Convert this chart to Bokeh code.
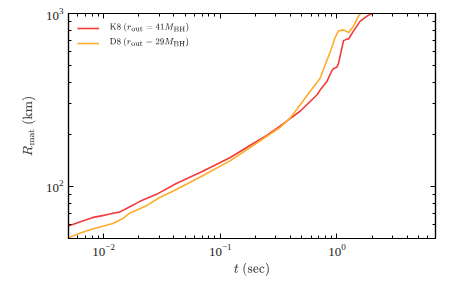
from bokeh.plotting import figure
from bokeh.models import LogAxis, Legend, LegendItem, Range1d, FixedTicker, CustomJSTickFormatter, Label
from bokeh.embed import file_html
from bokeh.resources import INLINE

# K8 series
t_k8 = [0.005, 0.0065, 0.008, 0.01, 0.012, 0.0137, 0.016, 0.0205, 0.0284, 0.042,
        0.07, 0.122, 0.181, 0.25, 0.327, 0.486, 0.676, 0.72, 0.82, 0.908, 0.935,
        1.0, 1.03, 1.14, 1.22, 1.26, 1.39, 1.585, 1.81, 1.99]
r_k8 = [59, 63, 66, 68, 70, 71, 75, 82, 90, 104,
        122, 147, 173, 197, 224, 273, 339, 362, 404, 470, 479,
        490, 513, 697, 711, 712, 793, 904, 966, 1000]

# D8 series
t_d8 = [0.005, 0.006, 0.0075, 0.01, 0.012, 0.0145, 0.0167, 0.023, 0.030, 0.042, 0.07,
        0.122, 0.18, 0.327, 0.4, 0.486, 0.59, 0.719, 0.82, 0.877, 0.967,
        1.03, 1.14, 1.26, 1.39, 1.53, 1.6]
r_d8 = [50.5, 53, 56, 59, 61, 65, 70, 77, 86, 96, 115,
        141, 168, 220, 250, 298, 355, 422, 536, 599, 728,
        793, 804, 777, 847, 966, 1000]

legend_labels = [r"$$\mathrm{K8}\ (r_{\rm out} = 41M_{\rm BH})$$",
                 r"$$\mathrm{D8}\ (r_{\rm out} = 29M_{\rm BH})$$"]
colors = ["#f23a3a", "#ffac2a"]

x_major = [0.01, 0.1, 1.0]
x_minor = [0.005, 0.006, 0.007, 0.008, 0.009,
           0.02, 0.03, 0.04, 0.05, 0.06, 0.07, 0.08, 0.09,
           0.2, 0.3, 0.4, 0.5, 0.6, 0.7, 0.8, 0.9,
           2, 3, 4, 5, 6, 7]
y_major = [100, 1000]
y_minor = [50, 60, 70, 80, 90, 200, 300, 400, 500, 600, 700, 800, 900]

FONT = "Liberation Serif"

p = figure(width=450, height=280, x_axis_type="log", y_axis_type="log",
           x_range=Range1d(0.005, 7.0), y_range=Range1d(50, 1000),
           output_backend="svg", toolbar_location=None,
           min_border_left=68, min_border_right=15, min_border_top=13, min_border_bottom=37)

p.xgrid.visible = False
p.ygrid.visible = False
p.outline_line_color = "black"
p.outline_line_width = 1.2
p.background_fill_color = "white"
p.border_fill_color = "white"

r1 = p.line(t_k8, r_k8, line_color=colors[0], line_width=1.6)
r2 = p.line(t_d8, r_d8, line_color=colors[1], line_width=1.6)

def style(ax):
    ax.major_tick_in = 5
    ax.major_tick_out = 0
    ax.minor_tick_in = 3
    ax.minor_tick_out = 0
    ax.axis_line_color = "black"
    ax.axis_line_width = 1.2
    ax.major_tick_line_color = "black"
    ax.minor_tick_line_color = "black"
    ax.major_tick_line_width = 1
    ax.minor_tick_line_width = 1
    ax.major_label_text_font = FONT
    ax.major_label_text_font_size = "13px"
    ax.major_label_text_color = "#222222"
    ax.axis_label_text_font = FONT
    ax.axis_label_text_font_style = "normal"
    ax.axis_label_text_font_size = "13px"

p.xaxis.ticker = FixedTicker(ticks=x_major, minor_ticks=x_minor)
p.yaxis.ticker = FixedTicker(ticks=y_major, minor_ticks=y_minor)
style(p.xaxis[0])
style(p.yaxis[0])
p.xaxis.axis_label = r"$$t\ (\mathrm{sec})$$"
p.yaxis.axis_label = r"$$R_{\mathrm{mat}}\ (\mathrm{km})$$"
p.xaxis.major_label_standoff = 5
p.yaxis.major_label_standoff = 5
p.xaxis.axis_label_standoff = 4
p.yaxis.axis_label_standoff = 6

blank = CustomJSTickFormatter(code="return ''")
ax_top = LogAxis(ticker=FixedTicker(ticks=x_major, minor_ticks=x_minor), formatter=blank)
ax_right = LogAxis(ticker=FixedTicker(ticks=y_major, minor_ticks=y_minor), formatter=blank)
style(ax_top)
style(ax_right)
ax_top.major_label_standoff = 0
ax_right.major_label_standoff = 0
p.add_layout(ax_top, "above")
p.add_layout(ax_right, "right")

legend = Legend(items=[
    LegendItem(label=" ", renderers=[r1]),
    LegendItem(label=" ", renderers=[r2]),
], location="top_left")
legend.border_line_alpha = 0
legend.background_fill_alpha = 0
legend.label_text_font = FONT
legend.label_text_font_size = "10px"
legend.glyph_width = 22
legend.glyph_height = 12
legend.label_height = 12
legend.spacing = 3
legend.margin = 5
legend.padding = 4
p.add_layout(legend)

# legend texts (TeX) placed beside the legend glyphs
label_x = 0.0104
label_y = [832, 684]
for txt, ly in zip(legend_labels, label_y):
    p.add_layout(Label(x=label_x, y=ly, text=txt, text_font_size="7px", x_offset=4,
                       text_baseline="middle", text_color="#333333"))

open("out.html", "w").write(file_html(p, INLINE))
